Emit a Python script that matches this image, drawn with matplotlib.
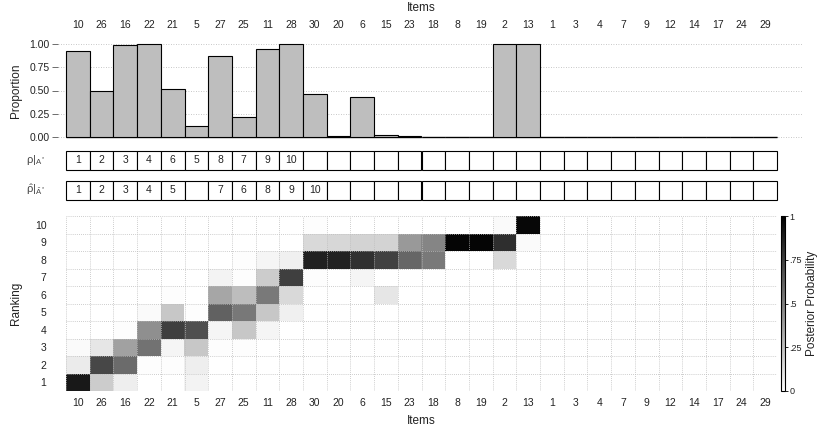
import numpy as np
import matplotlib
matplotlib.use('Agg')
from matplotlib import pyplot as plt
from matplotlib.colors import LinearSegmentedColormap

plt.rcParams['font.family'] = ['Liberation Sans', 'DejaVu Sans']
plt.rcParams['mathtext.fontset'] = 'custom'
plt.rcParams['mathtext.rm'] = 'Liberation Sans'
plt.rcParams['mathtext.it'] = 'Liberation Sans'

items = [10, 26, 16, 22, 21, 5, 27, 25, 11, 28, 30, 20, 6, 15, 23, 18, 8, 19, 2, 13,
         1, 3, 4, 7, 9, 12, 14, 17, 24, 29]

proportion = [0.92, 0.49, 0.99, 1.00, 0.52, 0.12, 0.87, 0.22, 0.95, 1.00,
              0.46, 0.01, 0.43, 0.02, 0.01, 0.005, 0.005, 0.005, 1.00, 1.00,
              0, 0, 0, 0, 0, 0, 0, 0, 0, 0]

# rank labels shown in the two small tables ('' = empty box)
rho_rank = ['1', '2', '3', '4', '6', '5', '8', '7', '9', '10'] + [''] * 20
rho_hat_rank = ['1', '2', '3', '4', '5', '', '7', '6', '8', '9', '10'] + [''] * 19

# posterior probability, rows = ranking 1..10, columns follow `items`
z = [0] * 10
post = [
    [0.90, 0.20, 0.07, 0, 0, 0.05, 0, 0, 0, 0] + z + z,
    [0.08, 0.72, 0.58, 0.01, 0.01, 0.07, 0, 0, 0, 0] + z + z,
    [0.02, 0.10, 0.37, 0.55, 0.04, 0.22, 0.01, 0.01, 0, 0] + z + z,
    [0, 0, 0.01, 0.44, 0.75, 0.69, 0.04, 0.22, 0.04, 0] + z + z,
    [0, 0, 0, 0.02, 0.22, 0.01, 0.62, 0.53, 0.22, 0.06] + z + z,
    [0, 0, 0, 0, 0.01, 0, 0.35, 0.26, 0.52, 0.15] + [0, 0, 0, 0.10, 0, 0, 0, 0, 0, 0] + z,
    [0, 0, 0, 0, 0, 0, 0.05, 0.01, 0.20, 0.75] + [0.01, 0, 0.04, 0, 0, 0, 0, 0, 0, 0] + z,
    [0, 0, 0, 0, 0, 0, 0, 0.01, 0.04, 0.06] + [0.87, 0.86, 0.81, 0.74, 0.60, 0.52, 0, 0, 0.15, 0] + z,
    z + [0.15, 0.16, 0.17, 0.17, 0.40, 0.48, 0.98, 0.98, 0.82, 0.02] + z,
    z + [0.01, 0, 0, 0, 0, 0, 0, 0, 0.02, 0.97] + z,
]

W, H = 818, 432
fig = plt.figure(figsize=(W / 100, H / 100), dpi=100)

def px(x0, y0, x1, y1):
    # pixel box -> figure fraction
    return [x0 / W, 1 - y1 / H, (x1 - x0) / W, (y1 - y0) / H]

txt = '#222222'
fs = 7.5
n = len(items)
x = np.arange(n)
L, R = 66, 777
colw = (R - L) / n

# ---- proportion bars
gl, gr = 58, 803
ax = fig.add_axes(px(gl, 42.1, gr, 138.9))
ax.set_xlim(-0.5 - (L - gl) / colw, n - 0.5 + (gr - R) / colw)
ax.set_ylim(-0.02, 1.02)
for v in [0, 0.25, 0.5, 0.75, 1.0]:
    ax.axhline(v, color='#b5b5b5', lw=0.6, ls=(0, (1, 2)), zorder=0)
ax.hlines(0, -0.5, n - 0.5, color='#555555', lw=1, zorder=1)
ax.bar(x, proportion, width=1, color='#bebebe', edgecolor='black', lw=0.8, zorder=2)
for s in ax.spines.values():
    s.set_visible(False)
ax.set_yticks([0, 0.25, 0.5, 0.75, 1.0])
ax.set_yticklabels(['0.00', '0.25', '0.50', '0.75', '1.00'])
ax.tick_params(axis='y', length=4, width=0.6, color='#555555', labelsize=fs, labelcolor=txt, pad=2)
ax.xaxis.tick_top()
ax.set_xticks(x)
ax.set_xticklabels([str(i) for i in items])
ax.tick_params(axis='x', length=0, labelsize=fs, labelcolor=txt, pad=9)
ax.set_ylabel('Proportion', fontsize=8.5, color=txt, labelpad=5)
fig.text((L + R) / 2 / W, 1 - 8 / H, 'Items', ha='center', va='center', fontsize=8.5, color=txt)

# ---- rank tables
def table(y0, y1, vals, label):
    t = fig.add_axes(px(L, y0, R, y1))
    t.set_xlim(-0.5, n - 0.5)
    t.set_ylim(0, 1)
    t.bar(x, [1] * n, width=1, bottom=0, color='white', edgecolor='black', lw=0.8, clip_on=False)
    for i, v in enumerate(vals):
        t.text(i, 0.5, v, ha='center', va='center', fontsize=fs, color=txt)
    t.axis('off')
    fig.text(46 / W, 1 - (y0 + y1) / 2 / H, label, ha='right', va='center', fontsize=8, color='#444444')

table(150.5, 169.5, rho_rank, r'$\rho|_{A^*}$')
table(180.5, 199.5, rho_hat_rank, r'$\hat{\rho}|_{\hat{A}^*}$')

# ---- posterior heatmap
cmap = LinearSegmentedColormap.from_list('wb', ['white', 'black'])
hm = fig.add_axes(px(L, 216, R, 391))
mat = np.array(post)
im = hm.imshow(mat, cmap=cmap, vmin=0, vmax=1, origin='lower', aspect='auto',
               extent=(-0.5, n - 0.5, 0.5, 10.5), interpolation='nearest')
for k in range(n + 1):
    hm.axvline(k - 0.5, color='#bdbdbd', lw=0.6, ls=(0, (1, 1.5)), zorder=3)
for k in range(11):
    hm.axhline(k + 0.5, color='#bdbdbd', lw=0.6, ls=(0, (1, 1.5)), zorder=3)
for s in hm.spines.values():
    s.set_visible(False)
hm.set_xticks(x)
hm.set_xticklabels([str(i) for i in items])
hm.set_yticks(range(1, 11))
hm.tick_params(length=0, labelsize=fs, labelcolor=txt, pad=5)
hm.tick_params(axis='y', pad=14)
hm.set_xlabel('Items', fontsize=8.5, color=txt, labelpad=5)
hm.set_ylabel('Ranking', fontsize=8.5, color=txt, labelpad=9)

cax = fig.add_axes(px(780.7, 216, 784.7, 391))
cb = fig.colorbar(im, cax=cax)
cb.set_ticks([0, 0.25, 0.5, 0.75, 1])
cb.set_ticklabels(['0', '.25', '.5', '.75', '1'])
cb.outline.set_linewidth(0.8)
cax.tick_params(length=2, width=0.6, labelsize=6.5, pad=1.5, labelcolor=txt)
cb.set_label('Posterior Probability', fontsize=8.5, color=txt, labelpad=3)

fig.savefig('out.png', dpi=100)
